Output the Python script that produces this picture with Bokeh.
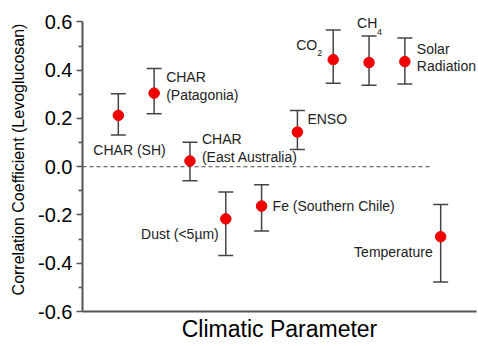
from bokeh.plotting import figure
from bokeh.models import (ColumnDataSource, Whisker, TeeHead, Range1d, FixedTicker, Label,
                          CustomJSTickFormatter)
from bokeh.embed import file_html
from bokeh.resources import INLINE

params = ["CHAR (SH)", "CHAR (Patagonia)", "CHAR (East Australia)", "Dust (<5µm)",
          "Fe (Southern Chile)", "ENSO", "CO2", "CH4", "Solar Radiation", "Temperature"]
xpos = [1, 2, 3, 4, 5, 6, 7, 8, 9, 10]
corr = [0.213, 0.305, 0.024, -0.216, -0.163, 0.144, 0.444, 0.432, 0.436, -0.290]
err_low = [0.132, 0.220, -0.058, -0.368, -0.266, 0.071, 0.346, 0.338, 0.343, -0.478]
err_high = [0.302, 0.407, 0.101, -0.105, -0.075, 0.233, 0.567, 0.542, 0.534, -0.156]
y_ticks = [-0.6, -0.4, -0.2, 0.0, 0.2, 0.4, 0.6]
y_minor = [-0.5, -0.3, -0.1, 0.1, 0.3, 0.5]

FONT = "Liberation Sans"
AX = "#555555"

p = figure(width=478, height=346, output_backend="svg", toolbar_location=None,
           x_range=Range1d(0, 11), y_range=Range1d(-0.6, 0.66),
           min_border_left=82, min_border_right=2, min_border_top=7, min_border_bottom=35)
p.outline_line_color = None
p.grid.visible = False
p.background_fill_color = "white"

# y axis
ya = p.yaxis[0]
ya.ticker = FixedTicker(ticks=y_ticks, minor_ticks=y_minor)
ya.bounds = (-0.6, 0.6)
ya.formatter = CustomJSTickFormatter(code="return tick.toFixed(1);")
ya.major_label_text_font = FONT
ya.major_label_text_font_size = "20px"
ya.major_label_text_color = "black"
ya.axis_line_color = AX
ya.axis_line_width = 2
ya.major_tick_line_color = AX
ya.minor_tick_line_color = AX
ya.major_tick_line_width = 1.5
ya.minor_tick_line_width = 1.5
ya.major_tick_out = 6
ya.major_tick_in = 0
ya.minor_tick_out = 4
ya.minor_tick_in = 0
ya.axis_label = "Correlation Coefficient (Levoglucosan)"
ya.axis_label_text_font = FONT
ya.axis_label_text_font_size = "16px"
ya.axis_label_text_font_style = "normal"
ya.axis_label_text_color = "black"
ya.axis_label_standoff = 8
ya.major_label_standoff = 4

# x axis
xa = p.xaxis[0]
xa.ticker = FixedTicker(ticks=[])
xa.major_label_text_font_size = "0px"
xa.axis_line_color = AX
xa.axis_line_width = 2
xa.major_tick_line_color = None
xa.minor_tick_line_color = None
xa.axis_label = "Climatic Parameter"
xa.axis_label_text_font = FONT
xa.axis_label_text_font_size = "23px"
xa.axis_label_text_font_style = "normal"
xa.axis_label_text_color = "black"
xa.axis_label_standoff = 4

# zero reference line
ZERO_END = 9.75
p.segment(x0=[0], y0=[0], x1=[ZERO_END], y1=[0], line_color="#444444",
          line_dash="4 3", line_width=1)

src = ColumnDataSource(dict(x=xpos, y=corr, lo=err_low, hi=err_high, name=params))
w = Whisker(source=src, base="x", lower="lo", upper="hi", line_color="#444444", line_width=1.5,
            lower_head=TeeHead(size=15, line_color="#444444", line_width=1.5),
            upper_head=TeeHead(size=15, line_color="#444444", line_width=1.5))
p.add_layout(w)
p.scatter("x", "y", source=src, size=10.5, fill_color="#f00000", line_color="#f00000")

# annotations
lab_size = "14px"
def lab(x, y, t, align="left", size=lab_size, xo=0, yo=0):
    p.add_layout(Label(x=x, y=y, text=t, text_font=FONT, text_font_size=size,
                       text_color="#222222", text_align=align, text_baseline="middle",
                       x_offset=xo, y_offset=yo))

lab(xpos[0], corr[0], "CHAR (SH)", "left", xo=-25, yo=-35)
lab(xpos[1], corr[1], "CHAR", "left", xo=12, yo=16)
lab(xpos[1], corr[1], "(Patagonia)", "left", xo=12, yo=-2)
lab(xpos[2], corr[2], "CHAR", "left", xo=12, yo=22)
lab(xpos[2], corr[2], "(East Australia)", "left", xo=12, yo=4)
lab(xpos[3], corr[3], "Dust (<5µm)", "right", xo=-7, yo=-15)
lab(xpos[4], corr[4], "Fe (Southern Chile)", "left", xo=11, yo=0)
lab(xpos[5], corr[5], "ENSO", "left", xo=10, yo=13)
lab(xpos[6], corr[6], "CO", "right", xo=-16, yo=15)
lab(xpos[6], corr[6], "2", "left", xo=-16, yo=7, size="9px")
lab(xpos[7], corr[7], "CH", "left", xo=-12, yo=40)
lab(xpos[7], corr[7], "4", "left", xo=8, yo=31, size="9px")
lab(xpos[8], corr[8], "Solar", "left", xo=12, yo=13)
lab(xpos[8], corr[8], "Radiation", "left", xo=12, yo=-4)
lab(xpos[9], corr[9], "Temperature", "right", xo=-8, yo=-15)

open("out.html", "w").write(file_html(p, INLINE))
